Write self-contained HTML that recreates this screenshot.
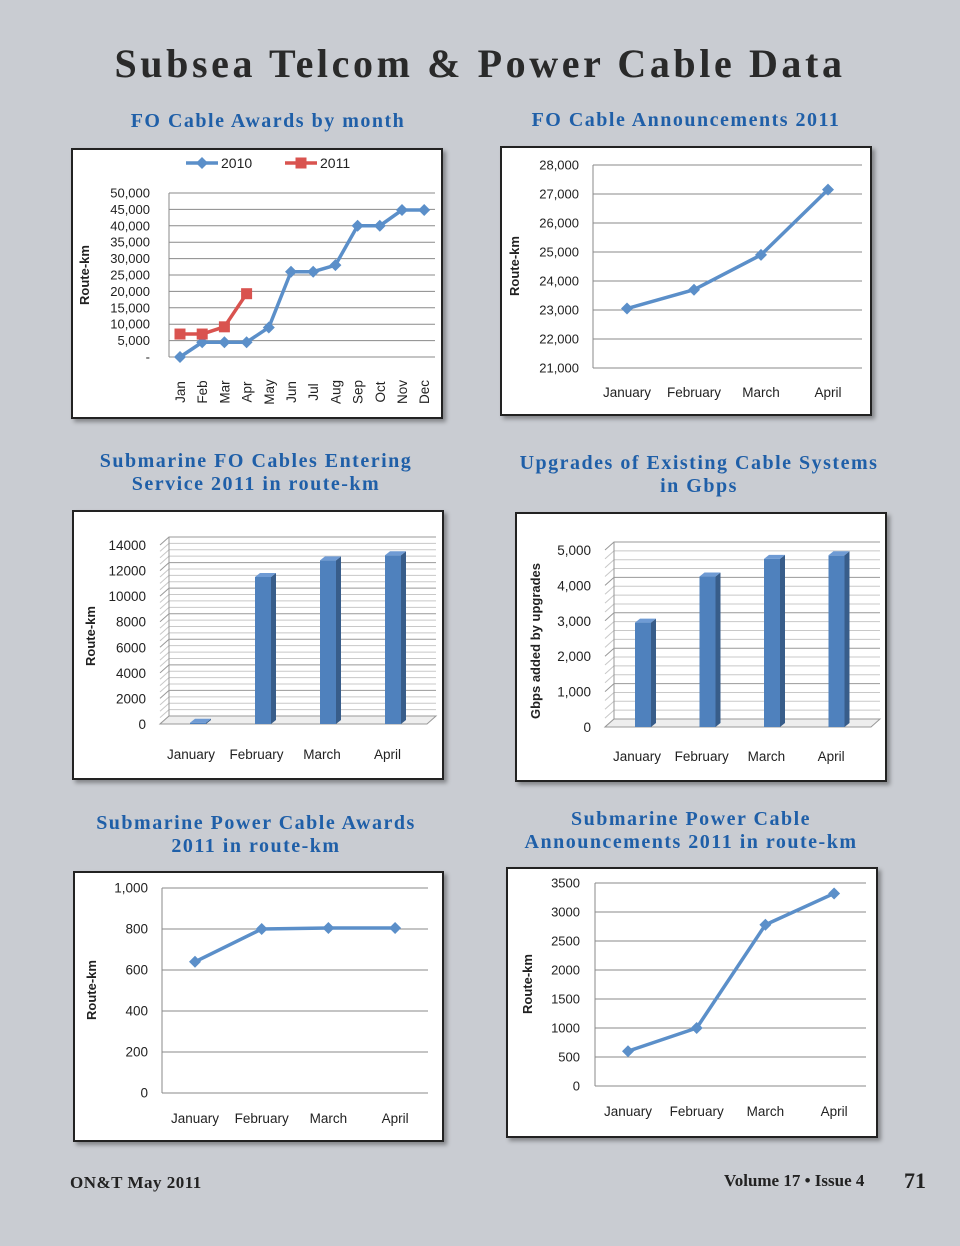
<!DOCTYPE html>
<html><head><meta charset="utf-8"><style>
body{margin:0;width:960px;height:1246px;background:#c9ccd2;position:relative;overflow:hidden;font-family:"Liberation Sans",sans-serif}
.t{position:absolute;font-family:"Liberation Serif",serif;font-weight:bold;color:#1f5fa8;text-align:center;font-size:20px;line-height:23px;letter-spacing:1.5px;white-space:nowrap}
.box{position:absolute;background:#fff;border:2px solid #222;box-shadow:3px 3px 4px rgba(0,0,0,.35)}
svg{position:absolute;left:0;top:0}
</style></head><body>
<div style="position:absolute;left:0;top:40px;width:960px;text-align:center;font-family:'Liberation Serif',serif;font-weight:bold;font-size:40px;color:#2a2a2a;letter-spacing:3.6px">Subsea Telcom &amp; Power Cable Data</div>
<div class="t" style="left:58px;top:110px;width:420px">FO Cable Awards by month</div>
<div class="t" style="left:476px;top:109px;width:420px">FO Cable Announcements 2011</div>
<div class="t" style="left:46px;top:450px;width:420px">Submarine FO Cables Entering<br>Service 2011 in route-km</div>
<div class="t" style="left:489px;top:452px;width:420px">Upgrades of Existing Cable Systems<br>in Gbps</div>
<div class="t" style="left:46px;top:812px;width:420px">Submarine Power Cable Awards<br>2011 in route-km</div>
<div class="t" style="left:481px;top:808px;width:420px">Submarine Power Cable<br>Announcements 2011 in route-km</div>
<div class="box" style="left:71px;top:148px;width:368px;height:267px"></div>
<div class="box" style="left:500px;top:146px;width:368px;height:266px"></div>
<div class="box" style="left:72px;top:510px;width:368px;height:266px"></div>
<div class="box" style="left:515px;top:512px;width:368px;height:266px"></div>
<div class="box" style="left:73px;top:871px;width:367px;height:267px"></div>
<div class="box" style="left:506px;top:867px;width:368px;height:267px"></div>
<div style="position:absolute;left:70px;top:1173px;font-family:'Liberation Serif',serif;font-weight:bold;font-size:17px;letter-spacing:0.5px;color:#222">ON&amp;T May 2011</div>
<div style="position:absolute;left:724px;top:1171px;font-family:'Liberation Serif',serif;font-weight:bold;font-size:17px;color:#222">Volume 17 • Issue 4</div>
<div style="position:absolute;left:904px;top:1168px;font-family:'Liberation Serif',serif;font-weight:bold;font-size:22px;color:#222">71</div>
<svg id="s" width="960" height="1246"></svg>
<script>
// Chart 1
const months=["Jan","Feb","Mar","Apr","May","Jun","Jul","Aug","Sep","Oct","Nov","Dec"];
const c1y2010=[0,4500,4500,4500,9000,26000,26000,28000,40000,40000,44800,44800];
const c1y2011=[7000,7000,9200,19300];
const c1ticks=["-","5,000","10,000","15,000","20,000","25,000","30,000","35,000","40,000","45,000","50,000"];
// Chart 2
const quarterMonths=["January","February","March","April"];
const c2vals=[23050,23700,24900,27150];
const c2ticks=["21,000","22,000","23,000","24,000","25,000","26,000","27,000","28,000"];
// Chart 3
const c3vals=[100,11500,12800,13200];
const c3ticks=["0","2000","4000","6000","8000","10000","12000","14000"];
// Chart 4
const c4vals=[2950,4250,4750,4850];
const c4ticks=["0","1,000","2,000","3,000","4,000","5,000"];
// Chart 5
const c5vals=[640,800,805,805];
const c5ticks=["0","200","400","600","800","1,000"];
// Chart 6
const c6vals=[600,1000,2780,3320];
const c6ticks=["0","500","1000","1500","2000","2500","3000","3500"];

const S=document.getElementById('s');const NS="http://www.w3.org/2000/svg";
function mk(t,a,txt){const e=document.createElementNS(NS,t);for(const k in a)e.setAttribute(k,a[k]);if(txt!==undefined)e.textContent=txt;S.appendChild(e);return e;}
function lin(v0,v1,p0,p1){return v=>p0+(v-v0)/(v1-v0)*(p1-p0);}
function ytitle(x,y,t){const e=mk('text',{x:x,y:y,transform:`rotate(-90 ${x} ${y})`,'text-anchor':'middle','font-size':13,'font-weight':'bold',fill:'#222'},t);}
function grid(x0,x1,ticks,max,y0,y1,labX,fs){const Y=lin(0,max,y0,y1);ticks.forEach((t,i)=>{const v=i*max/(ticks.length-1);const y=Y(v);const l=mk('line',{x1:x0,x2:x1,y1:y,y2:y,stroke:'#8a8a8a','stroke-width':1});const tx=mk('text',{x:labX,y:y+4.5,'text-anchor':'end','font-size':fs||13,fill:'#222'},t);});mk('line',{x1:x0,x2:x0,y1:y0,y2:y1,stroke:'#8a8a8a'});return Y;}
function series(xs,vals,Y,col,marker,name){const pts=vals.map((v,i)=>[xs(i),Y(v)]);const p=mk('polyline',{points:pts.map(p=>p.join(',')).join(' '),fill:'none',stroke:col,'stroke-width':3.5,'stroke-linejoin':'round'});pts.forEach(([x,y])=>{let m;if(marker==='sq')m=mk('rect',{x:x-5.5,y:y-5.5,width:11,height:11,fill:col});else m=mk('polygon',{points:`${x},${y-6} ${x+6},${y} ${x},${y+6} ${x-6},${y}`,fill:col});});}
function xlabels(xs,labels,y){labels.forEach((t,i)=>{const e=mk('text',{x:xs(i),y:y,'text-anchor':'middle','font-size':13.5,fill:'#222'},t);});}
const BL='#5b8fc9',RD='#d9534f';
// chart1
{const Y=grid(169,435,c1ticks,50000,357,193,150,13);const X=i=>180+i*22.2;
series(X,c1y2010,Y,BL,'d','series-2010');series(X,c1y2011,Y,RD,'sq','series-2011');
months.forEach((m,i)=>{const x=X(i)+5,y=392;const e=mk('text',{x:x,y:y,transform:`rotate(-90 ${x} ${y})`,'text-anchor':'middle','font-size':13.5,fill:'#222'},m);});
ytitle(89,275,'Route-km');
mk('line',{x1:186,x2:218,y1:163,y2:163,stroke:BL,'stroke-width':3.5});mk('polygon',{points:'202,157 208,163 202,169 196,163',fill:BL});
const l1=mk('text',{x:221,y:168,'font-size':14,fill:'#222'},'2010');
mk('line',{x1:285,x2:317,y1:163,y2:163,stroke:RD,'stroke-width':3.5});mk('rect',{x:295.5,y:157.5,width:11,height:11,fill:RD});
const l2=mk('text',{x:320,y:168,'font-size':14,fill:'#222'},'2011');}
// chart2
{const Y=grid(593,862,c2ticks,7000,368,165,579,13);const Y2=v=>Y(v-21000);const X=i=>627+i*67;
series(X,c2vals,Y2,BL,'d','announcements');xlabels(X,quarterMonths,397);ytitle(519,266,'Route-km');}
// chart5
{const Y=grid(162,428,c5ticks,1000,1093,888,148,13.5);const X=i=>195+i*66.7;
series(X,c5vals,Y,BL,'d','power-awards');xlabels(X,quarterMonths,1123);ytitle(96,990,'Route-km');}
// chart6
{const Y=grid(595,866,c6ticks,3500,1086,883,580,13);const X=i=>628+i*68.7;
series(X,c6vals,Y,BL,'d','power-announcements');xlabels(X,quarterMonths,1116);ytitle(532,984,'Route-km');}
// 3D bar charts
function bar3d(x0,x1,y0,y1,max,ticks,vals,labX,labXs,labY,bx,bw,name){
 const dx=9,dy=-8;const Y=lin(0,max,y0,y1);
 const steps=(ticks.length-1)*4;
 for(let k=0;k<=steps;k++){const v=k*max/steps;const y=Y(v);const major=k%4===0;
  const l=mk('polyline',{points:`${x0},${y} ${x0+dx},${y+dy} ${x1},${y+dy}`,fill:'none',stroke:major?'#999':'#c8c8c8','stroke-width':1});}
 mk('line',{x1:x0+dx,x2:x0+dx,y1:y0+dy,y2:y1+dy,stroke:'#999'});
 mk('polygon',{points:`${x0},${y0} ${x0+dx},${y0+dy} ${x1},${y0+dy} ${x1-dx},${y0}`,fill:'#eee',stroke:'#999'});
 ticks.forEach((t,i)=>{const y=Y(i*max/(ticks.length-1));const e=mk('text',{x:labX,y:y+5,'text-anchor':'end','font-size':13.5,fill:'#222'},t);});
 vals.forEach((v,i)=>{const x=bx(i),y=Y(v),d=5,e=-4;
  const f=mk('rect',{x:x,y:y,width:bw,height:y0-y,fill:'#4f81bd'});
  mk('polygon',{points:`${x+bw},${y} ${x+bw+d},${y+e} ${x+bw+d},${y0+e} ${x+bw},${y0}`,fill:'#385d8a'});
  mk('polygon',{points:`${x},${y} ${x+d},${y+e} ${x+bw+d},${y+e} ${x+bw},${y}`,fill:'#6f9bd4'});});
 xlabels(labXs,quarterMonths,labY);}
bar3d(160,436,724,545,14000,c3ticks,c3vals,146,i=>191+i*65.5,759,i=>190+i*65,16,'fo-service');ytitle(95,636,'Route-km');
bar3d(605,880,727,550,5000,c4ticks,c4vals,591,i=>637+i*64.7,761,i=>635+i*64.5,16,'upgrades');ytitle(540,641,'Gbps added by upgrades');
</script>
</body></html>
